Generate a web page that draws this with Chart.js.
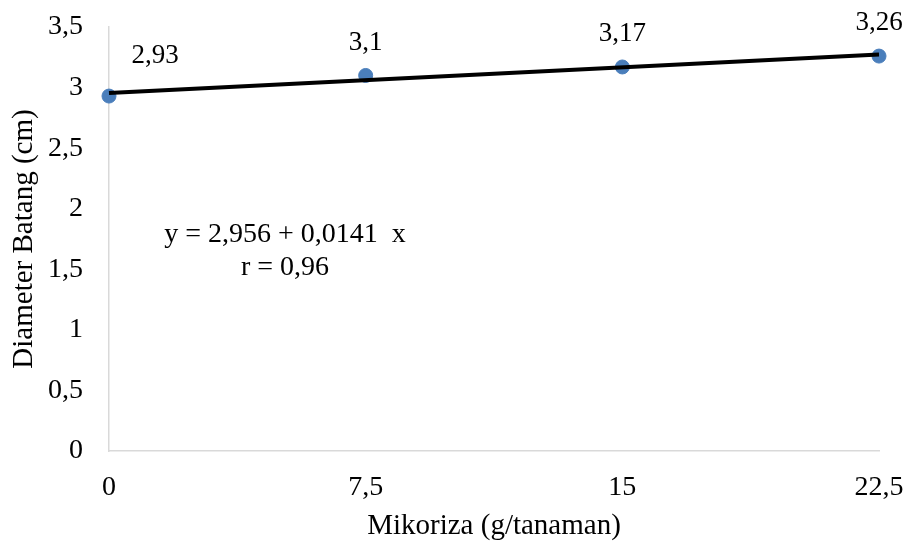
<!DOCTYPE html>
<html lang="id">
<head>
    <meta charset="UTF-8">
    <title>Diameter Batang</title>
    <script src="https://cdn.jsdelivr.net/npm/chart.js"></script>
    <style>
        html, body { margin: 0; padding: 0; background: #fff; }
    </style>
</head>
<body>
    <canvas id="diameterChart" width="905" height="541"></canvas>

    <script>
        // Data
        const dosis = [0, 7.5, 15, 22.5];          // Mikoriza (g/tanaman)
        const diameter = [2.93, 3.1, 3.17, 3.26];  // Diameter Batang (cm)
        const trendX = [0, 22.5];
        const trendY = [2.956, 3.273];
        const xTicks = [0, 7.5, 15, 22.5];
        const equationLines = ['y = 2,956 + 0,0141  x', 'r = 0,96'];

        const serif = '"Liberation Serif", "Times New Roman", serif';
        const koma = v => String(v).replace('.', ',');

        // point labels + equation text
        const labelPlugin = {
            id: 'labels',
            afterDatasetsDraw(chart) {
                const ctx = chart.ctx;
                const meta = chart.getDatasetMeta(1);
                ctx.save();
                ctx.fillStyle = '#000';
                ctx.font = '27px ' + serif;
                ctx.textAlign = 'center';
                ctx.textBaseline = 'middle';
                meta.data.forEach((pt, i) => {
                    const dx = i === 0 ? 46 : 0;
                    const dy = i === 0 ? -40 : -33;
                    ctx.fillText(koma(diameter[i]), pt.x + dx, pt.y + dy);
                });
                ctx.font = '28px ' + serif;
                ctx.fillText(equationLines[0], 285, 235);
                ctx.fillText(equationLines[1], 285, 268);
                ctx.restore();
            }
        };

        const ctx = document.getElementById('diameterChart').getContext('2d');
        new Chart(ctx, {
            type: 'scatter',
            data: {
                datasets: [{
                    label: 'Trend',
                    data: trendX.map((x, i) => ({ x: x, y: trendY[i] })),
                    showLine: true,
                    borderColor: '#000',
                    borderWidth: 4,
                    pointRadius: 0,
                    clip: false,
                    order: 1
                }, {
                    label: 'Diameter',
                    data: dosis.map((x, i) => ({ x: x, y: diameter[i] })),
                    backgroundColor: '#4a7ebb',
                    borderColor: '#4a7ebb',
                    pointRadius: 7,
                    clip: false,
                    order: 2
                }]
            },
            options: {
                responsive: false,
                animation: false,
                layout: { padding: { top: 27, right: 26, left: 0, bottom: 0 } },
                plugins: { legend: { display: false }, tooltip: { enabled: false } },
                scales: {
                    x: {
                        type: 'linear',
                        min: 0,
                        max: 22.5,
                        afterBuildTicks: s => { s.ticks = xTicks.map(v => ({ value: v })); },
                        afterFit: s => { s.height = 90; s.paddingLeft = 0; s.paddingRight = 0; },
                        grid: { display: false, drawTicks: false },
                        border: { color: '#d9d9d9', width: 1.5 },
                        ticks: {
                            color: '#000',
                            font: { family: serif, size: 28 },
                            padding: 20,
                            maxRotation: 0,
                            callback: v => koma(v)
                        },
                        title: {
                            display: true,
                            text: 'Mikoriza (g/tanaman)',
                            color: '#000',
                            font: { family: serif, size: 29 },
                            padding: { top: 0, bottom: -3 }
                        }
                    },
                    y: {
                        min: 0,
                        max: 3.5,
                        afterFit: s => { s.width = 109; s.paddingTop = 0; s.paddingBottom = 0; },
                        grid: { display: false, drawTicks: false },
                        border: { color: '#d9d9d9', width: 1.5 },
                        ticks: {
                            stepSize: 0.5,
                            color: '#000',
                            font: { family: serif, size: 28 },
                            padding: 26,
                            callback: v => koma(v)
                        },
                        title: {
                            display: true,
                            text: 'Diameter Batang (cm)',
                            color: '#000',
                            font: { family: serif, size: 29 },
                            padding: { top: 7, bottom: 0 }
                        }
                    }
                }
            },
            plugins: [labelPlugin]
        });
    </script>
</body>
</html>
